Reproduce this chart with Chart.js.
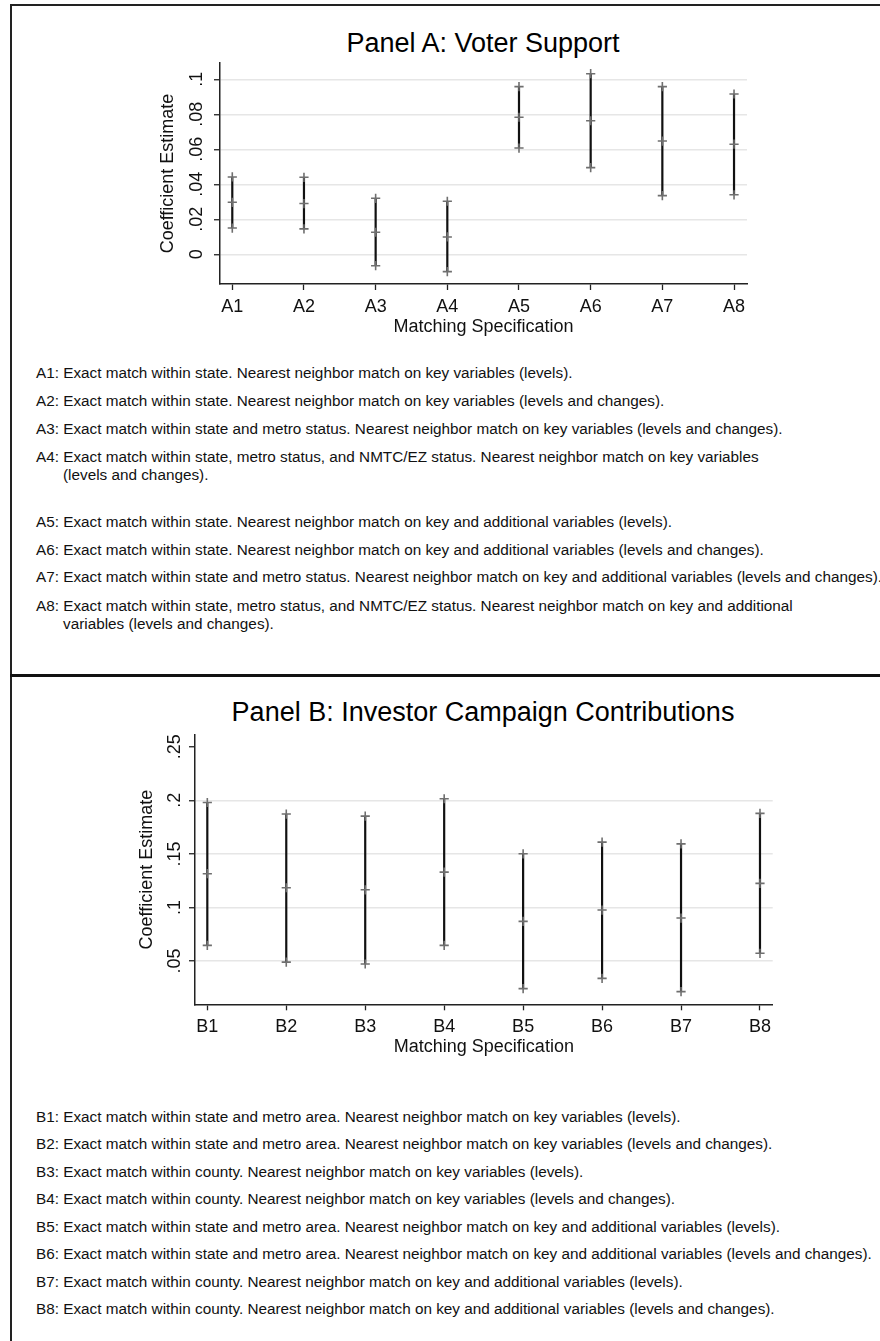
<!DOCTYPE html>
<html>
<head>
<meta charset="utf-8">
<script src="https://cdn.jsdelivr.net/npm/chart.js@4.4.1/dist/chart.umd.min.js"></script>
<style>
  html, body { margin: 0; padding: 0; background: #fff; }
  body { width: 880px; height: 1341px; position: relative; overflow: hidden;
         font-family: "Liberation Sans", Arial, Helvetica, sans-serif; color: #111; }
  .rule-top  { position: absolute; left: 10px; top: 4px; width: 870px; height: 2px; background: #222; }
  .rule-left { position: absolute; left: 10px; top: 4px; width: 2px; height: 1337px; background: #222; }
  .divider   { position: absolute; left: 10px; top: 674px; width: 870px; height: 3px; background: #111; }
  .title { position: absolute; left: 483px; transform: translateX(-50%); white-space: nowrap;
           font-size: 27px; line-height: 32px; color: #000; }
  .box { position: absolute; }
  .note { position: absolute; left: 36px; white-space: nowrap; font-size: 15.3px; line-height: 18px;
          padding-left: 27px; text-indent: -27px; color: #111; }
</style>
</head>
<body>
<div class="rule-top"></div>
<div class="rule-left"></div>
<div class="divider"></div>

<div class="title" id="titleA" style="top:27px"></div>
<div class="box" style="left:130px;top:50px;width:640px;height:300px"><canvas id="chartA"></canvas></div>
<div id="notesA"></div>

<div class="title" id="titleB" style="top:696px"></div>
<div class="box" style="left:100px;top:720px;width:700px;height:350px"><canvas id="chartB"></canvas></div>
<div id="notesB"></div>

<script>
// ---- Panel A: voter support ----
const titleA = "Panel A: Voter Support";
const specsA = ["A1", "A2", "A3", "A4", "A5", "A6", "A7", "A8"];
const estA   = [0.0297, 0.0290, 0.0126, 0.0099, 0.0783, 0.0763, 0.0647, 0.0629];
const lowA   = [0.0150, 0.0145, -0.0065, -0.0099, 0.0607, 0.0495, 0.0335, 0.0340];
const highA  = [0.0442, 0.0440, 0.0320, 0.0303, 0.0958, 0.1032, 0.0958, 0.0916];
const yTicksA      = [0, 0.02, 0.04, 0.06, 0.08, 0.1];
const yTickLabelsA = ["0", ".02", ".04", ".06", ".08", ".1"];
const notesA = [
  ["A1: Exact match within state. Nearest neighbor match on key variables (levels)."],
  ["A2: Exact match within state. Nearest neighbor match on key variables (levels and changes)."],
  ["A3: Exact match within state and metro status. Nearest neighbor match on key variables (levels and changes)."],
  ["A4: Exact match within state, metro status, and NMTC/EZ status. Nearest neighbor match on key variables", "(levels and changes)."],
  ["A5: Exact match within state. Nearest neighbor match on key and additional variables (levels)."],
  ["A6: Exact match within state. Nearest neighbor match on key and additional variables (levels and changes)."],
  ["A7: Exact match within state and metro status. Nearest neighbor match on key and additional variables (levels and changes)."],
  ["A8: Exact match within state, metro status, and NMTC/EZ status. Nearest neighbor match on key and additional", "variables (levels and changes)."]
];
const noteRowsA = [373, 401, 429, 457, 522, 550, 577, 606];

// ---- Panel B: investor campaign contributions ----
const titleB = "Panel B: Investor Campaign Contributions";
const specsB = ["B1", "B2", "B3", "B4", "B5", "B6", "B7", "B8"];
const estB   = [0.1315, 0.1184, 0.1165, 0.1330, 0.0870, 0.0976, 0.0901, 0.1225];
const lowB   = [0.0646, 0.0490, 0.0472, 0.0646, 0.0242, 0.0338, 0.0214, 0.0572];
const highB  = [0.1980, 0.1872, 0.1853, 0.2015, 0.1501, 0.1610, 0.1594, 0.1878];
const yTicksB      = [0.05, 0.1, 0.15, 0.2, 0.25];
const yTickLabelsB = [".05", ".1", ".15", ".2", ".25"];
const notesB = [
  ["B1: Exact match within state and metro area. Nearest neighbor match on key variables (levels)."],
  ["B2: Exact match within state and metro area. Nearest neighbor match on key variables (levels and changes)."],
  ["B3: Exact match within county. Nearest neighbor match on key variables (levels)."],
  ["B4: Exact match within county. Nearest neighbor match on key variables (levels and changes)."],
  ["B5: Exact match within state and metro area. Nearest neighbor match on key and additional variables (levels)."],
  ["B6: Exact match within state and metro area. Nearest neighbor match on key and additional variables (levels and changes)."],
  ["B7: Exact match within county. Nearest neighbor match on key and additional variables (levels)."],
  ["B8: Exact match within county. Nearest neighbor match on key and additional variables (levels and changes)."]
];
const noteRowsB = [1117, 1144, 1172, 1199, 1227, 1254, 1282, 1309];

const FONT = '"Liberation Sans", Arial, Helvetica, sans-serif';

function writeNotes(containerId, notes, rows) {
  const box = document.getElementById(containerId);
  notes.forEach((lines, i) => {
    const d = document.createElement('div');
    d.className = 'note';
    d.style.top = (rows[i] - 9.5) + 'px';
    lines.forEach((ln, j) => {
      if (j > 0) d.appendChild(document.createElement('br'));
      d.appendChild(document.createTextNode(ln));
    });
    box.appendChild(d);
  });
}

// Vertical labels along the y axis, in the style of the stata graph scheme
const verticalYLabels = {
  id: 'verticalYLabels',
  afterDraw(chart, args, opts) {
    const s = chart.scales.y;
    const ctx = chart.ctx;
    ctx.save();
    ctx.font = opts.size + 'px ' + FONT;
    ctx.fillStyle = '#111';
    ctx.textAlign = 'center';
    ctx.textBaseline = 'middle';
    opts.values.forEach((v, i) => {
      const y = s.getPixelForValue(v);
      ctx.save();
      ctx.translate(s.right - opts.offset, y);
      ctx.rotate(-Math.PI / 2);
      ctx.fillText(opts.labels[i], 0, 0);
      ctx.restore();
    });
    ctx.restore();
  }
};

function buildPanel(canvasId, cfg) {
  const xs = cfg.specs.map((_, i) => i + 1);

  const bars = [];
  xs.forEach((x, i) => {
    bars.push({ x: x, y: cfg.low[i] }, { x: x, y: cfg.high[i] }, { x: x, y: null });
  });
  const marks = [];
  xs.forEach((x, i) => {
    marks.push({ x: x, y: cfg.low[i] }, { x: x, y: cfg.est[i] }, { x: x, y: cfg.high[i] });
  });

  return new Chart(document.getElementById(canvasId), {
    type: 'scatter',
    data: {
      datasets: [
        { data: marks, pointStyle: 'cross', pointRadius: 4.6, pointBorderWidth: 1.6,
          pointBorderColor: '#6f6f6f', pointBackgroundColor: '#6f6f6f', showLine: false },
        { data: bars, showLine: true, spanGaps: false, pointRadius: 0,
          borderColor: '#111', borderWidth: 2.2 }
      ]
    },
    options: {
      responsive: true,
      maintainAspectRatio: false,
      animation: false,
      events: [],
      layout: { padding: { top: cfg.padTop, right: cfg.padRight, left: 0, bottom: 0 } },
      plugins: {
        legend: { display: false },
        tooltip: { enabled: false },
        title: { display: false },
        verticalYLabels: { values: cfg.yTicks, labels: cfg.yLabels, offset: cfg.yLabelOffset, size: 18 }
      },
      scales: {
        x: {
          type: 'linear',
          min: cfg.xMin, max: cfg.xMax,
          afterBuildTicks: (s) => { s.ticks = xs.map(v => ({ value: v })); },
          afterFit: (s) => { s.height = cfg.xAxisHeight; },
          ticks: {
            autoSkip: false, maxRotation: 0, minRotation: 0, padding: 6,
            color: '#111', font: { family: FONT, size: 18 },
            callback: (v) => cfg.specs[Math.round(v) - 1]
          },
          grid: { drawOnChartArea: false, drawTicks: true, tickLength: 6, color: '#222', tickWidth: 1.3 },
          border: { display: true, color: '#222', width: 1.5 },
          title: { display: true, text: 'Matching Specification', color: '#111',
                   font: { family: FONT, size: 18 }, padding: { top: 0, bottom: cfg.xTitlePad } }
        },
        y: {
          type: 'linear',
          min: cfg.yMin, max: cfg.yMax,
          afterBuildTicks: (s) => { s.ticks = cfg.yTicks.map(v => ({ value: v })); },
          afterFit: (s) => { s.width = cfg.yAxisWidth; },
          ticks: { display: false },
          grid: {
            drawOnChartArea: true, drawTicks: true, tickLength: 6, lineWidth: 1.5,
            color: (c) => (cfg.noGridAt.includes(c.tick && c.tick.value) ? 'rgba(0,0,0,0)' : '#e6e6e6'),
            tickColor: '#222', tickWidth: 1.3
          },
          border: { display: true, color: '#222', width: 1.5 },
          title: { display: true, text: 'Coefficient Estimate', color: '#111',
                   font: { family: FONT, size: 18 }, padding: { top: cfg.yTitlePad, bottom: 0 } }
        }
      }
    },
    plugins: [verticalYLabels]
  });
}

document.getElementById('titleA').textContent = titleA;
document.getElementById('titleB').textContent = titleB;
writeNotes('notesA', notesA, noteRowsA);
writeNotes('notesB', notesB, noteRowsB);

buildPanel('chartA', {
  specs: specsA, est: estA, low: lowA, high: highA,
  yTicks: yTicksA, yLabels: yTickLabelsA, noGridAt: [],
  xMin: 0.8285, xMax: 8.181, yMin: -0.01697, yMax: 0.1093,
  padTop: 13, padRight: 23, yAxisWidth: 90, xAxisHeight: 66,
  xTitlePad: 12, yTitlePad: 27, yLabelOffset: 22.5
});

buildPanel('chartB', {
  specs: specsB, est: estB, low: lowB, high: highB,
  yTicks: yTicksB, yLabels: yTickLabelsB, noGridAt: [0.25],
  xMin: 0.844, xMax: 8.161, yMin: 0.0096, yMax: 0.261,
  padTop: 15, padRight: 27.3, yAxisWidth: 95, xAxisHeight: 65.7,
  xTitlePad: 12, yTitlePad: 36, yLabelOffset: 20
});
</script>
</body>
</html>
